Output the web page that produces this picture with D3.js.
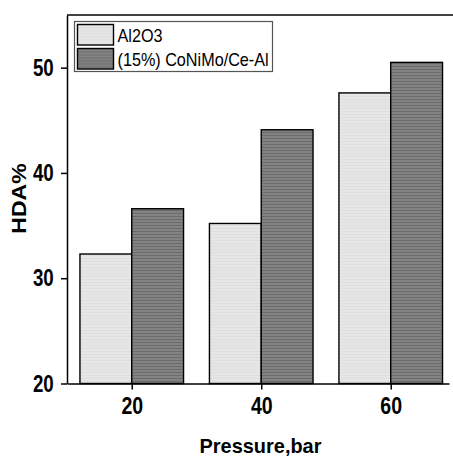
<!DOCTYPE html>
<html>
  <head>
    <style>
      body { margin: 0; background: #fff; }
      text { font-family: "Liberation Sans", Arial, sans-serif; }
    </style>
  </head>

  <body>

    <svg class="surface" width="453" height="457"></svg>

    <script src="https://cdn.jsdelivr.net/npm/d3@7/dist/d3.min.js" charset="utf-8"></script>
    <script>

      const pressures = [20, 40, 60]
      const seriesNames = ['Al2O3', '(15%) CoNiMo/Ce-Al']
      const al2o3 = [32.3, 35.2, 47.6]
      const coNiMo = [36.6, 44.1, 50.5]
      const yTicks = [20, 30, 40, 50]

      const series = [
        { name: seriesNames[0], values: al2o3, fill: 'url(#light)', offset: -8 },
        { name: seriesNames[1], values: coNiMo, fill: 'url(#dark)', offset: 0 }
      ]
      const barUnits = 8

      const surface = d3.select('.surface')

      const x = d3.scaleLinear().domain([10, 69]).range([67, 449])
      const y = d3.scaleLinear().domain([20, 55]).range([383.5, 15])

      // striped fills, like the original hatch
      const defs = surface.append('defs')
      const light = defs.append('pattern').attr('id', 'light')
        .attr('patternUnits', 'userSpaceOnUse').attr('width', 4).attr('height', 3)
      light.append('rect').attr('width', 4).attr('height', 3).attr('fill', '#e6e6e6')
      light.append('rect').attr('width', 4).attr('height', 1).attr('fill', '#dedede')
      const dark = defs.append('pattern').attr('id', 'dark')
        .attr('patternUnits', 'userSpaceOnUse').attr('width', 4).attr('height', 3)
      dark.append('rect').attr('width', 4).attr('height', 3).attr('fill', '#838383')
      dark.append('rect').attr('width', 4).attr('height', 1).attr('fill', '#6c6c6c')

      // bars
      series.forEach(s => {
        surface.append('g').selectAll('rect').data(s.values)
          .enter()
          .append('rect')
          .attr('x', (d, i) => x(pressures[i] + s.offset))
          .attr('y', d => y(d))
          .attr('width', (d, i) => x(pressures[i] + s.offset + barUnits) - x(pressures[i] + s.offset))
          .attr('height', d => y(20) - y(d))
          .attr('fill', s.fill)
          .attr('stroke', '#000')
          .attr('stroke-width', 1.4)
      })

      // axes
      const yAxis = surface.append('g')
        .attr('transform', `translate(${x(10)},0)`)
        .call(d3.axisLeft(y).tickValues(yTicks).tickSize(6).tickPadding(11).tickSizeOuter(0))
      const xAxis = surface.append('g')
        .attr('transform', `translate(0,${y(20)})`)
        .call(d3.axisBottom(x).tickValues(pressures).tickSize(6).tickPadding(8.5).tickSizeOuter(0))

      surface.selectAll('.domain, .tick line').attr('stroke', '#000').attr('stroke-width', 1.5)
      yAxis.selectAll('text')
        .attr('font-size', 24).attr('font-weight', 'bold').attr('fill', '#000')
        .attr('transform', 'scale(0.78,1)')
      xAxis.selectAll('text')
        .attr('font-size', 23).attr('font-weight', 'bold').attr('fill', '#000')
        .attr('transform', 'scale(0.85,1)')

      surface.append('line')
        .attr('x1', x(10)).attr('x2', 453)
        .attr('y1', y(55)).attr('y2', y(55))
        .attr('stroke', '#000').attr('stroke-width', 1.5)

      // axis titles
      surface.append('text')
        .attr('transform', 'translate(260.5,453) scale(0.95,1)')
        .attr('text-anchor', 'middle')
        .attr('font-size', 21).attr('font-weight', 'bold')
        .text('Pressure,bar')
      surface.append('text')
        .attr('transform', 'translate(26,198.5) scale(0.87,1) rotate(-90)')
        .attr('text-anchor', 'middle')
        .attr('font-size', 23).attr('font-weight', 'bold')
        .text('HDA%')

      // legend
      const legend = surface.append('g').attr('transform', 'translate(74.5,21.5)')
      legend.append('rect')
        .attr('width', 198).attr('height', 50)
        .attr('fill', '#fff').attr('stroke', '#555').attr('stroke-width', 1.2)
      const item = legend.selectAll('.item').data(series)
        .enter()
        .append('g')
        .attr('class', 'item')
        .attr('transform', (d, i) => `translate(3,${3 + i * 24})`)
      item.append('rect')
        .attr('width', 36).attr('height', 20.5)
        .attr('fill', d => d.fill)
        .attr('stroke', '#000').attr('stroke-width', 1.4)
      item.append('text')
        .attr('transform', 'translate(40,17.5) scale(0.9,1)')
        .attr('font-size', 18)
        .text(d => d.name)

    </script>
  </body>

</html>
